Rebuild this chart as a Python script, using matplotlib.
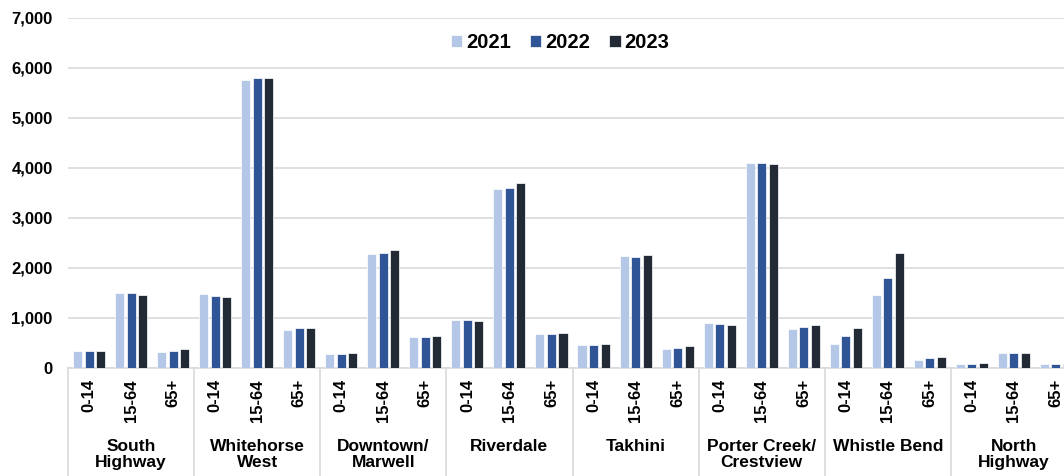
import matplotlib
matplotlib.use("Agg")
import matplotlib.pyplot as plt
import matplotlib.transforms as mtransforms
import numpy as np

plt.rcParams['font.family'] = ['Liberation Sans', 'DejaVu Sans']
plt.rcParams['font.weight'] = 'bold'

areas = ["South\nHighway", "Whitehorse\nWest", "Downtown/\nMarwell", "Riverdale",
         "Takhini", "Porter Creek/\nCrestview", "Whistle Bend", "North\nHighway"]
ages = ["0-14", "15-64", "65+"]
years = ["2021", "2022", "2023"]

# values per area, in order 0-14, 15-64, 65+
v2021 = [350, 1500, 315,
         1485, 5755, 760,
         275, 2280, 612,
         960, 3590, 680,
         465, 2240, 375,
         900, 4110, 775,
         490, 1460, 155,
         75, 300, 75]
v2022 = [350, 1505, 343,
         1447, 5795, 795,
         290, 2293, 630,
         965, 3605, 690,
         455, 2214, 395,
         888, 4110, 815,
         650, 1810, 205,
         85, 295, 75]
v2023 = [335, 1470, 375,
         1427, 5797, 805,
         305, 2360, 638,
         950, 3695, 710,
         490, 2260, 432,
         860, 4090, 860,
         805, 2300, 220,
         95, 300, 75]

colors = ["#B4C7E7", "#2F5597", "#222A35"]
grey = "#D9D9D9"

fig = plt.figure(figsize=(10.64, 4.76), dpi=100)
# axes runs a bit past the right edge, like the original crop
ax = fig.add_axes([68 / 1064, 108 / 476, 1009 / 1064, 350 / 476])

x = np.arange(len(v2021))
w = 0.215
off = 0.274
for i, (vals, c, lab) in enumerate(zip([v2021, v2022, v2023], colors, years)):
    ax.bar(x + (i - 1) * off, vals, width=w, color=c, label=lab,
           edgecolor="white", linewidth=0.5, zorder=3)

ax.set_xlim(-0.5, len(x) - 0.5)
ax.set_ylim(0, 7000)
ax.set_yticks(range(0, 7001, 1000))
ax.set_yticklabels([f"{t:,}" for t in range(0, 7001, 1000)], fontsize=12, fontweight='bold')
ax.yaxis.grid(True, color=grey, linewidth=1.2, zorder=0)
ax.set_axisbelow(True)

ax.set_xticks(x)
ax.set_xticklabels(ages * len(areas), rotation=90, fontsize=12, fontweight='bold')
ax.tick_params(axis='x', length=0, pad=8)
ax.tick_params(axis='y', length=0, pad=11)

for s in ['top', 'right', 'left']:
    ax.spines[s].set_visible(False)
ax.spines['bottom'].set_color(grey)
ax.spines['bottom'].set_linewidth(1.2)

trans = mtransforms.blended_transform_factory(ax.transData, ax.transAxes)
for g in range(len(areas) + 1):
    ax.plot([g * 3 - 0.5, g * 3 - 0.5], [0, -0.35], color=grey, linewidth=1.2,
            transform=trans, clip_on=False)
for g, name in enumerate(areas):
    ax.text(g * 3 + 1, -0.203, name, transform=trans, ha='center', va='top',
            fontsize=12.5, fontweight='bold', linespacing=1.1)

leg = ax.legend(loc='center', bbox_to_anchor=(0.488, 0.929), ncol=3, frameon=False,
                handlelength=0.55, handleheight=0.55, handletextpad=0.2, columnspacing=0.95,
                prop={'size': 14.5, 'weight': 'bold'})

fig.savefig("out.png", dpi=100)
